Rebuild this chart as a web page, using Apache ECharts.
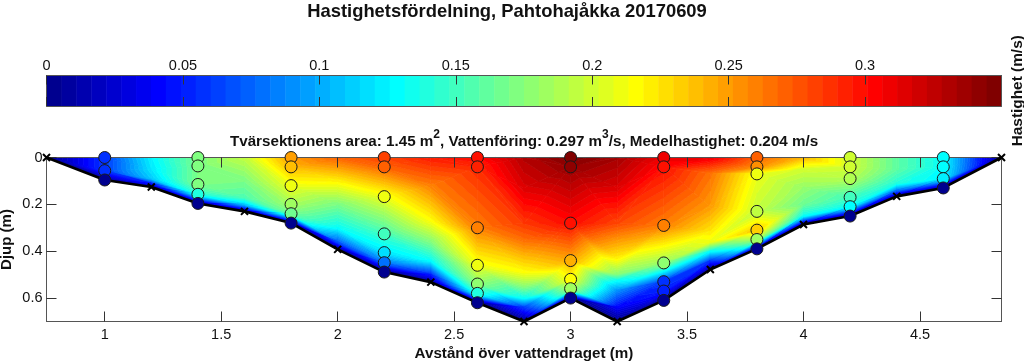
<!DOCTYPE html>
<html>
<head>
<meta charset="UTF-8">
<title>Hastighetsfördelning</title>
<style>
  html, body { margin: 0; padding: 0; background: #fff; }
  #chart { width: 1024px; height: 362px; }
</style>
<script src="https://cdn.jsdelivr.net/npm/echarts@6/dist/echarts.min.js"></script>
</head>
<body>
<div id="chart"></div>
<script>
// kolumner från vänster till höger, sista punkten är botten
const stationX = [0.75, 1.0, 1.2, 1.4, 1.6, 1.8, 2.0, 2.2, 2.4, 2.6, 2.8, 3.0, 3.2, 3.4, 3.6, 3.8, 4.0, 4.2, 4.4, 4.6, 4.85];
const stationDepth = [
  [0],
  [0, 0.056, 0.096],
  [0, 0.05, 0.09, 0.11, 0.126],
  [0, 0.036, 0.115, 0.157, 0.196],
  [0, 0.1, 0.17, 0.2, 0.23],
  [0, 0.04, 0.12, 0.2, 0.24, 0.28],
  [0, 0.1, 0.2, 0.3, 0.36, 0.392],
  [0, 0.04, 0.167, 0.326, 0.406, 0.449, 0.489],
  [0, 0.12, 0.27, 0.355, 0.44, 0.5, 0.532],
  [0, 0.04, 0.3, 0.46, 0.54, 0.58, 0.62],
  [0, 0.13, 0.28, 0.355, 0.42, 0.49, 0.55, 0.6, 0.64, 0.7],
  [0, 0.04, 0.28, 0.44, 0.52, 0.56, 0.6],
  [0, 0.13, 0.28, 0.355, 0.43, 0.497, 0.525, 0.568, 0.64, 0.7],
  [0, 0.04, 0.29, 0.45, 0.53, 0.57, 0.61],
  [0, 0.067, 0.21, 0.31, 0.36, 0.4, 0.44, 0.478],
  [0, 0.04, 0.07, 0.23, 0.31, 0.35, 0.39],
  [0, 0.05, 0.127, 0.2, 0.25, 0.286],
  [0, 0.04, 0.09, 0.17, 0.21, 0.25],
  [0, 0.05, 0.11, 0.14, 0.166],
  [0, 0.04, 0.09, 0.13],
  [0]
];
const stationSpeed = [
  [0],
  [0.06, 0.06, 0],
  [0.125, 0.12, 0.11, 0.05, 0],
  [0.17, 0.17, 0.17, 0.14, 0],
  [0.195, 0.17, 0.155, 0.11, 0],
  [0.25, 0.24, 0.21, 0.185, 0.165, 0],
  [0.27, 0.22, 0.17, 0.13, 0.07, 0],
  [0.28, 0.27, 0.21, 0.15, 0.12, 0.08, 0],
  [0.295, 0.26, 0.215, 0.175, 0.13, 0.05, 0],
  [0.3, 0.29, 0.26, 0.21, 0.175, 0.14, 0],
  [0.33, 0.315, 0.285, 0.265, 0.24, 0.215, 0.175, 0.13, 0.06, 0],
  [0.35, 0.34, 0.3, 0.245, 0.215, 0.185, 0],
  [0.335, 0.315, 0.28, 0.25, 0.22, 0.175, 0.13, 0.09, 0.04, 0],
  [0.31, 0.3, 0.26, 0.18, 0.06, 0.05, 0],
  [0.31, 0.265, 0.25, 0.225, 0.21, 0.13, 0.06, 0],
  [0.27, 0.255, 0.21, 0.195, 0.235, 0.185, 0],
  [0.24, 0.2, 0.18, 0.165, 0.13, 0],
  [0.2, 0.2, 0.19, 0.15, 0.13, 0],
  [0.16, 0.16, 0.14, 0.08, 0],
  [0.13, 0.13, 0.125, 0],
  [0]
];
const measuredStations = [1.0, 1.4, 1.8, 2.2, 2.6, 3.0, 3.4, 3.8, 4.2, 4.6];
const speedTicks = [0, 0.05, 0.1, 0.15, 0.2, 0.25, 0.3];
const xTicks = [1, 1.5, 2, 2.5, 3, 3.5, 4, 4.5];
const depthTicks = [0, 0.2, 0.4, 0.6];

const SPEED_MAX = 0.35;
const LEVELS = 64;
const FONT = '"Liberation Sans", Arial, sans-serif';
const AXIS_GRAY = '#555';

function clamp01(v) { return Math.max(0, Math.min(1, v)); }

function jetColor(i) {
  const t = (i + 1) / LEVELS;
  const r = clamp01(1.5 - Math.abs(4 * t - 3));
  const g = clamp01(1.5 - Math.abs(4 * t - 2));
  const b = clamp01(1.5 - Math.abs(4 * t - 1));
  return `rgb(${Math.round(r * 255)},${Math.round(g * 255)},${Math.round(b * 255)})`;
}

function speedColor(v) {
  return jetColor(Math.min(LEVELS - 1, Math.floor(v / SPEED_MAX * LEVELS)));
}

// remsa av trianglar mellan två intilliggande kolumner
function buildTriangles() {
  const tris = [];
  for (let c = 0; c < stationX.length - 1; c++) {
    const xa = stationX[c], xb = stationX[c + 1];
    const da = stationDepth[c], db = stationDepth[c + 1];
    const va = stationSpeed[c], vb = stationSpeed[c + 1];
    let i = 0, j = 0;
    while (i < da.length - 1 || j < db.length - 1) {
      const advanceA = j === db.length - 1 ||
        (i < da.length - 1 && da[i + 1] / (da[da.length - 1] || 1) <= db[j + 1] / (db[db.length - 1] || 1));
      if (advanceA) {
        tris.push([xa, da[i], va[i], xa, da[i + 1], va[i + 1], xb, db[j], vb[j]]);
        i++;
      } else {
        tris.push([xa, da[i], va[i], xb, db[j], vb[j], xb, db[j + 1], vb[j + 1]]);
        j++;
      }
    }
  }
  return tris;
}

// klipper en polygon mot v >= lim (sign 1) eller v <= lim (sign -1)
function clipPoly(pts, lim, sign) {
  const out = [];
  for (let k = 0; k < pts.length; k++) {
    const p = pts[k], q = pts[(k + 1) % pts.length];
    const pIn = sign * (p[2] - lim) >= 0, qIn = sign * (q[2] - lim) >= 0;
    if (pIn) out.push(p);
    if (pIn !== qIn) {
      const f = (lim - p[2]) / (q[2] - p[2]);
      out.push([p[0] + f * (q[0] - p[0]), p[1] + f * (q[1] - p[1]), lim]);
    }
  }
  return out;
}

function renderField(params, api) {
  const pts = [0, 3, 6].map(k => [api.value(k), api.value(k + 1), api.value(k + 2)]);
  const vs = pts.map(p => p[2]);
  const step = SPEED_MAX / LEVELS;
  const first = Math.max(0, Math.floor(Math.min(...vs) / step));
  const last = Math.min(LEVELS - 1, Math.floor(Math.max(...vs) / step));
  const children = [];
  for (let i = first; i <= last; i++) {
    let poly = clipPoly(pts, i * step, 1);
    if (i < LEVELS - 1 && poly.length) poly = clipPoly(poly, (i + 1) * step, -1);
    if (poly.length < 3) continue;
    const color = jetColor(i);
    children.push({
      type: 'polygon',
      shape: { points: poly.map(p => api.coord([p[0], p[1]])) },
      style: { fill: color, stroke: color, lineWidth: 0.7 }
    });
  }
  return { type: 'group', children };
}

function renderBar(params, api) {
  const a = api.coord([api.value(0), 1]);
  const b = api.coord([api.value(1), 0]);
  const color = jetColor(params.dataIndex);
  return {
    type: 'rect',
    shape: { x: a[0], y: a[1], width: b[0] - a[0] + 0.5, height: b[1] - a[1] },
    style: { fill: color }
  };
}

const barBands = [];
for (let i = 0; i < LEVELS; i++) barBands.push([i * SPEED_MAX / LEVELS, (i + 1) * SPEED_MAX / LEVELS]);

const bedPoints = stationX.map((x, c) => [x, stationDepth[c][stationDepth[c].length - 1]]);
const bedMarks = bedPoints.filter(p => !measuredStations.includes(p[0]));
const circles = [];
stationX.forEach((x, c) => {
  if (!measuredStations.includes(x)) return;
  stationDepth[c].forEach((d, k) => circles.push([x, d, stationSpeed[c][k]]));
});

const tickStyle = len => ({ inside: true, length: len, lineStyle: { color: '#333', width: 1 } });
const lineStyle = { onZero: false, lineStyle: { color: AXIS_GRAY, width: 1 } };
const labelStyle = { fontFamily: FONT, fontSize: 14.5, color: '#111' };

const option = {
  backgroundColor: '#fff',
  animation: false,
  title: [
    {
      text: 'Hastighetsfördelning, Pahtohajåkka 20170609',
      left: 502, top: -2, textAlign: 'center',
      textStyle: { fontFamily: FONT, fontSize: 18.4, fontWeight: 'bold', color: '#111' }
    },
    {
      text: '{a|Tvärsektionens area: 1.45 m}{s|2}{a|, Vattenföring: 0.297 m}{s|3}{a|/s, Medelhastighet: 0.204 m/s}',
      left: 519, top: 124, textAlign: 'center',
      textStyle: {
        rich: {
          a: { fontFamily: FONT, fontSize: 15.2, fontWeight: 'bold', color: '#111', verticalAlign: 'bottom', lineHeight: 20 },
          s: { fontFamily: FONT, fontSize: 12, fontWeight: 'bold', color: '#111', verticalAlign: 'top', lineHeight: 20 }
        }
      }
    }
  ],
  grid: [
    { left: 46.5, top: 75.5, width: 955, height: 30.5, outerBoundsMode: 'none' },
    { left: 46.5, top: 157.5, width: 955, height: 164, outerBoundsMode: 'none' }
  ],
  xAxis: [
    {
      gridIndex: 0, type: 'value', position: 'top', min: 0, max: SPEED_MAX, z: 6,
      splitLine: { show: false }, axisLine: lineStyle,
      axisTick: { ...tickStyle(9), customValues: speedTicks },
      axisLabel: { ...labelStyle, margin: 2, customValues: speedTicks, formatter: v => String(v) }
    },
    {
      gridIndex: 0, type: 'value', position: 'bottom', min: 0, max: SPEED_MAX, z: 6,
      splitLine: { show: false }, axisLine: lineStyle,
      axisTick: { ...tickStyle(9), customValues: speedTicks },
      axisLabel: { show: false }
    },
    {
      gridIndex: 1, type: 'value', position: 'bottom', min: 0.75, max: 4.85, z: 6,
      name: 'Avstånd över vattendraget (m)', nameLocation: 'middle', nameGap: 25,
      nameTextStyle: { fontFamily: FONT, fontSize: 15.2, fontWeight: 'bold', color: '#111' },
      splitLine: { show: false }, axisLine: lineStyle,
      axisTick: { ...tickStyle(10), customValues: xTicks },
      axisLabel: { ...labelStyle, margin: 6, customValues: xTicks, formatter: v => String(v) }
    },
    {
      gridIndex: 1, type: 'value', position: 'top', min: 0.75, max: 4.85, z: 6,
      splitLine: { show: false }, axisLine: lineStyle,
      axisTick: { ...tickStyle(10), customValues: xTicks },
      axisLabel: { show: false }
    }
  ],
  yAxis: [
    {
      gridIndex: 0, type: 'value', position: 'left', min: 0, max: 1, z: 6,
      splitLine: { show: false }, axisLine: lineStyle, axisTick: { show: false }, axisLabel: { show: false }
    },
    {
      gridIndex: 0, type: 'value', position: 'right', min: 0, max: 1, z: 6,
      name: 'Hastighet (m/s)', nameLocation: 'middle', nameRotate: 90, nameGap: 9,
      nameTextStyle: { fontFamily: FONT, fontSize: 15.4, fontWeight: 'bold', color: '#111' },
      splitLine: { show: false }, axisLine: lineStyle, axisTick: { show: false }, axisLabel: { show: false }
    },
    {
      gridIndex: 1, type: 'value', position: 'left', inverse: true, min: 0, max: 0.7, z: 6,
      name: 'Djup (m)', nameLocation: 'middle', nameRotate: 90, nameGap: 32, nameMoveOverlap: false,
      nameTextStyle: { fontFamily: FONT, fontSize: 15, fontWeight: 'bold', color: '#111' },
      splitLine: { show: false }, axisLine: lineStyle,
      axisTick: { ...tickStyle(10), customValues: depthTicks },
      axisLabel: { ...labelStyle, margin: 4, customValues: depthTicks, formatter: v => String(v) }
    },
    {
      gridIndex: 1, type: 'value', position: 'right', inverse: true, min: 0, max: 0.7, z: 6,
      splitLine: { show: false }, axisLine: lineStyle,
      axisTick: { ...tickStyle(10), customValues: depthTicks },
      axisLabel: { show: false }
    }
  ],
  series: [
    {
      type: 'custom', xAxisIndex: 0, yAxisIndex: 0, z: 2, silent: true,
      renderItem: renderBar, data: barBands, encode: { x: [0, 1] }
    },
    {
      type: 'custom', xAxisIndex: 2, yAxisIndex: 2, z: 2, silent: true,
      renderItem: renderField, data: buildTriangles(),
      encode: { x: [0, 3, 6], y: [1, 4, 7] }, clip: false
    },
    {
      type: 'line', xAxisIndex: 2, yAxisIndex: 2, z: 7, silent: true, clip: false,
      data: bedPoints, showSymbol: false,
      lineStyle: { color: '#000', width: 2.6 }
    },
    {
      type: 'scatter', xAxisIndex: 2, yAxisIndex: 2, z: 8, silent: true, clip: false,
      data: circles, symbolSize: 12,
      itemStyle: { color: p => speedColor(p.value[2]), opacity: 1, borderColor: '#1a1a1a', borderWidth: 1 }
    },
    {
      type: 'scatter', xAxisIndex: 2, yAxisIndex: 2, z: 9, silent: true, clip: false,
      data: bedMarks, symbol: 'path://M0 0L10 10M10 0L0 10', symbolSize: 7,
      itemStyle: { color: 'none', opacity: 1, borderColor: '#000', borderWidth: 2 }
    }
  ]
};

echarts.init(document.getElementById('chart')).setOption(option);
</script>
</body>
</html>
